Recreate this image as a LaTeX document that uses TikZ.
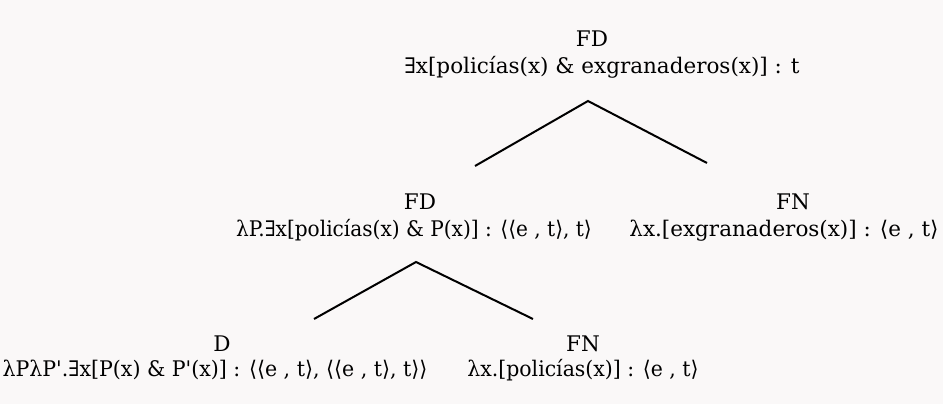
\documentclass[tikz,border=0pt]{standalone}
\usepackage{fontspec}
\setmainfont{DejaVu Serif}
\newfontfamily\symf{DejaVu Sans}
\newcommand\myL{{\symf ⟨}}
\newcommand\myR{{\symf ⟩}}
\newcommand\myQ{\textquotesingle}
\definecolor{bgc}{RGB}{250,248,248}
\tikzset{
  lbl/.style={anchor=base, inner sep=0pt, font=\fontsize{21.5}{24}\selectfont},
  edge/.style={line width=2pt, black},
}
\begin{document}
\begin{tikzpicture}[x=1pt,y=-1pt]
\fill[bgc] (0,0) rectangle (943,404);
\useasboundingbox (0,0) rectangle (943,404);
% top
\node[lbl] (tcat) at (592,47) {FD};
\node[lbl] (tform) at (602,74) {∃x[policías(x) \& exgranaderos(x)] : t};
% middle left
\node[lbl] (mcat) at (420,209) {FD};
\node[lbl] (mform) at (414,236) {\scalebox{0.935}[1]{λP.∃x[policías(x) \& P(x)] : \myL\myL e , t\myR, t\myR}};
% middle right
\node[lbl] (rcat) at (793,209) {FN};
\node[lbl] (rform) at (784,236) {λx.[exgranaderos(x)] : \myL e , t\myR};
% bottom left
\node[lbl] (dcat) at (222,351) {D};
\node[lbl] (dform) at (215,376) {\scalebox{0.955}[1]{λPλP\myQ.∃x[P(x) \& P\myQ(x)] : \myL\myL e , t\myR, \myL\myL e , t\myR, t\myR\myR}};
% bottom right
\node[lbl] (ncat) at (583,351) {FN};
\node[lbl] (nform) at (583,376) {\scalebox{0.95}[1]{λx.[policías(x)] : \myL e , t\myR}};
% branches
\coordinate (ta) at (588,101);
\coordinate (tl) at (475,166);
\coordinate (tr) at (707,163);
\coordinate (ma) at (416,262);
\coordinate (ml) at (314,319);
\coordinate (mr) at (533,319);
\draw[edge] (tl) -- (ta) -- (tr);
\draw[edge] (ml) -- (ma) -- (mr);
\end{tikzpicture}
\end{document}
